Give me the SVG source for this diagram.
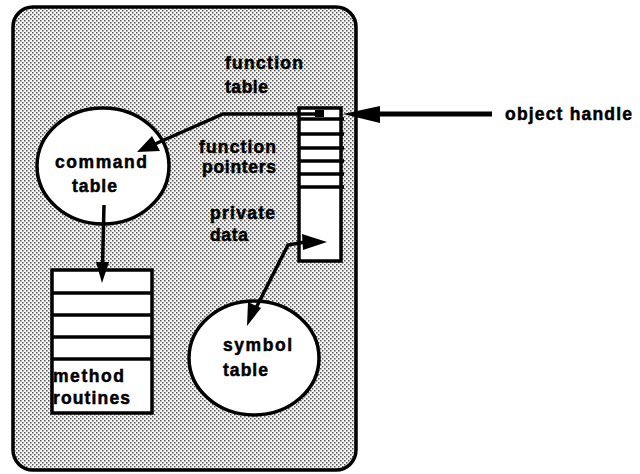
<svg xmlns="http://www.w3.org/2000/svg" width="640" height="474" viewBox="0 0 640 474">
<defs>
<pattern id="dots" width="4" height="4" patternUnits="userSpaceOnUse">
<rect width="4" height="4" fill="#f6f6f6"/>
<rect x="0" y="0" width="1.5" height="1.5" fill="#555"/>
<rect x="2" y="2" width="1.5" height="1.5" fill="#555"/>
</pattern>
</defs>
<style>
text{font-family:"Liberation Sans",Arial,sans-serif;font-weight:bold;font-size:17.5px;fill:#000;stroke:#000;stroke-width:0.5}
.box{fill:#fff;stroke:#000;stroke-width:3.5}
.ln{stroke:#000;stroke-width:3.5;fill:none}
.ah{fill:#000}
</style>
<rect x="13" y="7" width="343" height="463" rx="20" ry="20" fill="url(#dots)" stroke="#000" stroke-width="3.5"/>

<g id="function-table">
<rect class="box" x="299" y="108" width="42" height="153"/>
<line class="ln" x1="299" y1="119" x2="344" y2="119"/>
<line class="ln" x1="299" y1="134" x2="344" y2="134"/>
<line class="ln" x1="299" y1="148" x2="344" y2="148"/>
<line class="ln" x1="299" y1="161" x2="344" y2="161"/>
<line class="ln" x1="299" y1="174" x2="344" y2="174"/>
<line class="ln" x1="299" y1="187" x2="344" y2="187"/>
<rect x="315" y="110" width="9" height="7" fill="#000"/>
<text x="225" y="69" textLength="78" lengthAdjust="spacing">function</text>
<text x="225" y="93" textLength="43" lengthAdjust="spacing">table</text>
<text x="199" y="153" textLength="77" lengthAdjust="spacing">function</text>
<text x="202" y="173" textLength="74" lengthAdjust="spacing">pointers</text>
<text x="210" y="219" textLength="65" lengthAdjust="spacing">private</text>
<text x="210" y="241" textLength="38" lengthAdjust="spacing">data</text>
</g>

<g id="command-table">
<ellipse class="box" cx="103" cy="166" rx="66" ry="58"/>
<text x="55" y="168" textLength="92" lengthAdjust="spacing">command</text>
<text x="72" y="192" textLength="45" lengthAdjust="spacing">table</text>
</g>

<g id="method-routines">
<rect class="box" x="52" y="270" width="100" height="143"/>
<line class="ln" x1="52" y1="293" x2="152" y2="293"/>
<line class="ln" x1="52" y1="315" x2="152" y2="315"/>
<line class="ln" x1="52" y1="337" x2="152" y2="337"/>
<line class="ln" x1="52" y1="359" x2="152" y2="359"/>
<text x="53" y="382" textLength="71" lengthAdjust="spacing">method</text>
<text x="53" y="404" textLength="77" lengthAdjust="spacing">routines</text>
</g>

<g id="symbol-table">
<ellipse class="box" cx="254" cy="358" rx="65" ry="57"/>
<text x="223" y="351" textLength="69" lengthAdjust="spacing">symbol</text>
<text x="223" y="376" textLength="45" lengthAdjust="spacing">table</text>
</g>

<g id="object-handle">
<text x="505" y="120" textLength="127" lengthAdjust="spacing">object handle</text>
</g>

<g id="connectors">
<polyline class="ln" points="316,114 223,114 155,144"/>
<polygon class="ah" points="137,152 152,136 160,151"/>
<line class="ln" x1="104" y1="205" x2="102.5" y2="266"/>
<polygon class="ah" points="102,283 96,262 109,262"/>
<polyline class="ln" points="305,242 288,245 256,308"/>
<polygon class="ah" points="327,242 302,234 303,250"/>
<polygon class="ah" points="247,326 248,302 261,308"/>
<line x1="375" y1="114" x2="492" y2="114" stroke="#000" stroke-width="5"/>
<polygon class="ah" points="343,114 380,106 380,123"/>
</g>
</svg>
